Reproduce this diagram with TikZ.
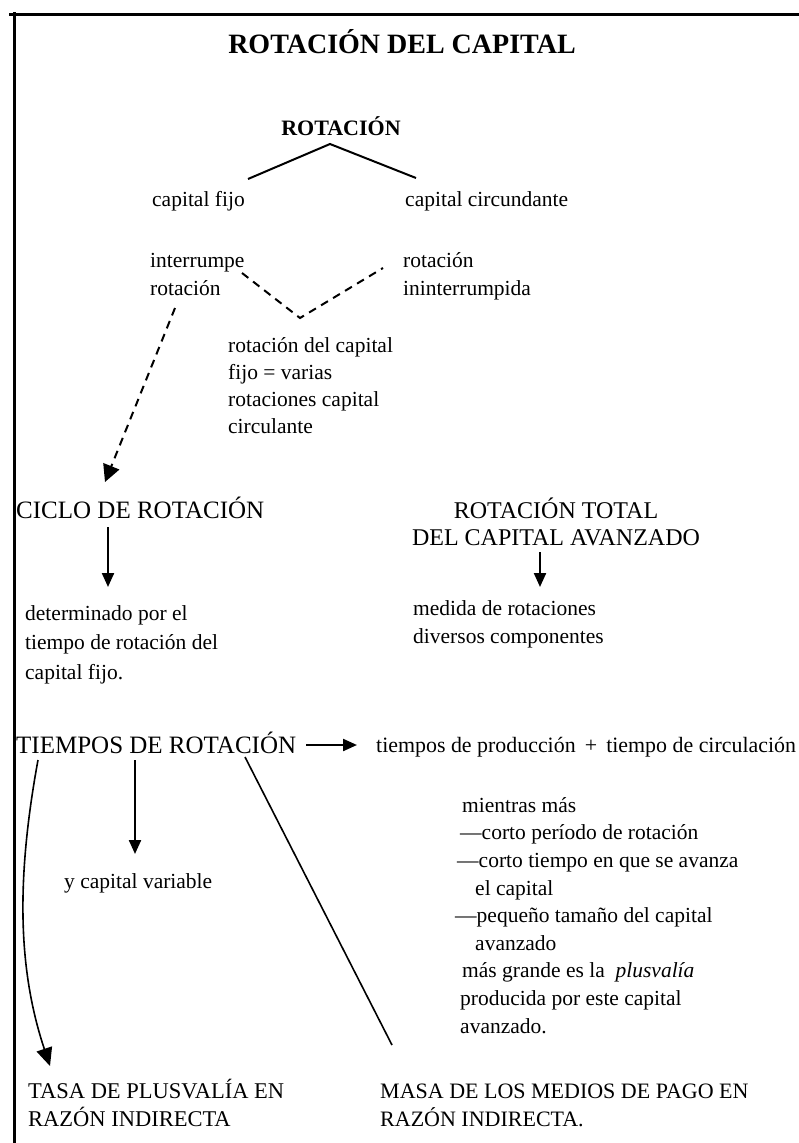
\documentclass[tikz,border=0pt]{standalone}
\usepackage{fontspec}
\setmainfont{Liberation Serif}
\usetikzlibrary{arrows.meta}
\begin{document}
\begin{tikzpicture}[x=1pt,y=-1pt,
  txt/.style={anchor=base west, inner sep=0pt, align=left, font=\fontsize{21.5}{27.5}\selectfont},
  capstxt/.style={anchor=base west, inner sep=0pt, align=left, font=\fontsize{25}{28}\selectfont},
  conn/.style={line width=2pt},
  dconn/.style={line width=2pt, dash pattern=on 8pt off 6pt},
  bigarrow/.style={line width=2.2pt, -{Triangle[length=14pt,width=12pt]}},
  thin/.style={line width=1.6pt},
  frame/.style={line width=3pt}]
\useasboundingbox (0,0) rectangle (799,1143);
% frame
\draw[frame] (9,14) -- (799,14);
\draw[frame] (14,12) -- (14,1143);

% title
\node[anchor=base, inner sep=0pt, font=\fontsize{28}{32}\selectfont\bfseries] (title) at (402,53) {ROTACIÓN DEL CAPITAL};
\node[anchor=base, inner sep=0pt, font=\fontsize{22}{24}\selectfont\bfseries] (rot) at (341,135) {ROTACIÓN};

\node[txt] (fijo) at (152,206) {capital fijo};
\node[txt] (circ) at (405,206) {capital circundante};

% multi-line nodes: base anchor = baseline of the last line
\node[txt] (interr) at (150,295) {interrumpe\\rotación};
\node[txt] (inint) at (403,295) {rotación\\ininterrumpida};

\node[txt, font=\fontsize{21.5}{27}\selectfont] (rotfijo) at (228,433) {rotación del capital\\fijo = varias\\rotaciones capital\\circulante};

\coordinate (apex) at (330,144);
\coordinate (fijoTop) at (248,179);
\coordinate (circTop) at (416,178);
\draw[conn] (fijoTop) -- (apex) -- (circTop);

\coordinate (dA) at (242,273);
\coordinate (dApex) at (300,318);
\coordinate (dB) at (383,268);
\draw[dconn] (dA) -- (dApex) -- (dB);

\node[capstxt] (ciclo) at (16,518) {CICLO DE ROTACIÓN};
\node[anchor=base, inner sep=0pt, align=center, font=\fontsize{24}{27}\selectfont] (total) at (556,545) {ROTACIÓN TOTAL\\DEL CAPITAL AVANZADO};

\coordinate (dStart) at (175,308);
\coordinate (dEnd) at (105,482);
\draw[dconn, -{Triangle[length=17pt,width=17pt]}] (dStart) -- (dEnd);

\node[txt, font=\fontsize{21.5}{29.5}\selectfont] (determ) at (25,679) {determinado por el\\tiempo de rotación del\\capital fijo.};
\node[txt] (medida) at (413,643) {medida de rotaciones\\diversos componentes};

\coordinate (cicloA) at (108,527);
\coordinate (cicloB) at (108,587);
\draw[bigarrow] (cicloA) -- (cicloB);
\coordinate (totalA) at (540,552);
\coordinate (totalB) at (540,587);
\draw[bigarrow] (totalA) -- (totalB);

\node[capstxt] (tiempos) at (16,753) {TIEMPOS DE ROTACIÓN};
\node[txt, font=\fontsize{21.9}{27.5}\selectfont] (prod) at (376,752) {tiempos de producción \,+\, tiempo de circulación};
\coordinate (tA) at (306,745);
\coordinate (tB) at (357,745);
\draw[bigarrow] (tA) -- (tB);

\node[txt] (yvar) at (64,888) {y capital variable};
\coordinate (yA) at (135,760);
\coordinate (yB) at (135,854);
\draw[bigarrow] (yA) -- (yB);

\node[txt, font=\fontsize{21.5}{27.6}\selectfont] (mientras) at (460,1033) {\hspace*{2pt}mientras más\\
—corto período de rotación\\
\hspace*{-3pt}—corto tiempo en que se avanza\\
\hspace*{15pt}el capital\\
\hspace*{-5pt}—pequeño tamaño del capital\\
\hspace*{15pt}avanzado\\
\hspace*{2pt}más grande es la \ \textit{plusvalía}\\
producida por este capital\\
avanzado.};

\coordinate (cStart) at (38,760);
\coordinate (cEnd) at (50,1066);
\draw[thin, -{Triangle[length=18pt,width=16pt]}] (cStart) .. controls (16,880) and (18,970) .. (cEnd);

\coordinate (lStart) at (245,757);
\coordinate (lEnd) at (392,1045);
\draw[thin] (lStart) -- (lEnd);

\node[capstxt, font=\fontsize{22.5}{28}\selectfont] (tasa) at (28,1126) {TASA DE PLUSVALÍA EN\\RAZÓN INDIRECTA};
\node[capstxt, font=\fontsize{22}{28}\selectfont] (masa) at (380,1126) {MASA DE LOS MEDIOS DE PAGO EN\\RAZÓN INDIRECTA.};
\end{tikzpicture}
\end{document}
